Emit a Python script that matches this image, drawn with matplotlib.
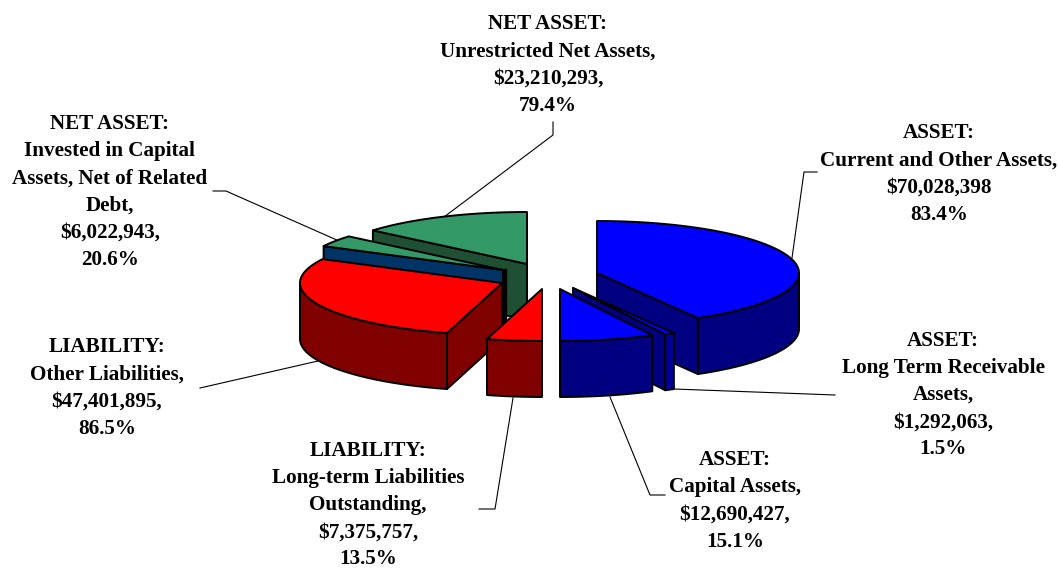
import numpy as np
import matplotlib
matplotlib.use('Agg')
import matplotlib.pyplot as plt

# Slices in clockwise order, starting at 12 o'clock
groups = ['ASSET', 'ASSET', 'ASSET', 'LIABILITY', 'LIABILITY', 'NET ASSET', 'NET ASSET']
names = ['Current and Other Assets', 'Long Term Receivable\nAssets', 'Capital Assets',
         'Long-term Liabilities\nOutstanding', 'Other Liabilities',
         'Invested in Capital\nAssets, Net of Related\nDebt', 'Unrestricted Net Assets']
values = [70028398, 1292063, 12690427, 7375757, 47401895, 6022943, 23210293]
value_ends = ['', ',', ',', ',', ',', ',', ',']
percents = [83.4, 1.5, 15.1, 13.5, 86.5, 20.6, 79.4]

# Look of each slice
apex_x = [597, 573, 560, 542, 502, 503, 527]
apex_y = [273, 288, 289, 289, 283, 270, 264]
top_colors = ['#0000FF', '#0000FF', '#0000FF', '#FF0000', '#FF0000', '#339966', '#339966']
side_colors = ['#000080', '#000099', '#000080', '#800000', '#800000', '#1F5033', '#1F5033']
cut_colors = ['#000080', '#000080', '#000080', '#800000', '#800000', '#003366', '#1F5033']
draw_order = [6, 5, 4, 0, 1, 2, 3]

# Label centres and leader lines
label_x = [939, 943, 735, 368, 107, 110, 548]
label_y = [174, 395, 501, 505, 388, 192, 65]
leaders = [[(792, 258), (804, 172), (817, 172)],
           [(674, 389), (835, 395)],
           [(610, 397), (650, 495), (665, 495)],
           [(513, 398), (495, 509), (479, 509)],
           [(318, 361), (200, 388)],
           [(339, 241), (226, 191), (213, 191)],
           [(444, 217), (553, 135), (553, 122)]]

rx, ry, depth = 202, 52, 56

plt.rcParams['font.family'] = ['Liberation Serif', 'DejaVu Serif']
fig = plt.figure(figsize=(10.58, 5.70), dpi=100)
ax = fig.add_axes([0, 0, 1, 1])
ax.set_xlim(0, 1058)
ax.set_ylim(570, 0)
ax.axis('off')

edges = np.concatenate([[0], np.cumsum(values)]) / np.sum(values) * 2 * np.pi


def rim(x0, y0, a1, a2):
    t = np.linspace(a1, a2, max(int(abs(a2 - a1) * 60), 2))
    return x0 + rx * np.sin(t), y0 - ry * np.cos(t)


def face(xs, ys, color, z):
    ax.fill(xs, ys, facecolor=color, edgecolor='black', linewidth=1.4, joinstyle='round', zorder=z)


def cut_face(x0, y0, a, color, z):
    px, py = x0 + rx * np.sin(a), y0 - ry * np.cos(a)
    face([x0, px, px, x0], [y0, py, py + depth, y0 + depth], color, z)


z = 2
for i in draw_order:
    a1, a2 = edges[i], edges[i + 1]
    x0, y0 = apex_x[i], apex_y[i]
    # only the cut face that looks toward the viewer
    if np.sin(a1) < -1e-6:
        cut_face(x0, y0, a1, cut_colors[i], z)
    if np.sin(a2) > 1e-6:
        cut_face(x0, y0, a2, cut_colors[i], z)
    # outer rim, only the part that faces the viewer
    f1, f2 = max(a1, np.pi / 2), min(a2, 3 * np.pi / 2)
    if f2 > f1:
        xs, ys = rim(x0, y0, f1, f2)
        face(np.r_[xs, xs[::-1]], np.r_[ys, ys[::-1] + depth], side_colors[i], z)
    xs, ys = rim(x0, y0, a1, a2)
    face(np.r_[x0, xs], np.r_[y0, ys], top_colors[i], z)
    z += 1

# dark sliver behind the right end of the red slice
ax.plot([505, 505], [270, 323], color='black', linewidth=2.4, zorder=3.5)

for i in range(len(values)):
    lx, ly = zip(*leaders[i])
    ax.plot(lx, ly, color='black', linewidth=0.8, zorder=1)
    label = f'{groups[i]}:\n{names[i]},\n${values[i]:,}{value_ends[i]}\n{percents[i]}%'
    ax.text(label_x[i], label_y[i], label, ha='center', va='center', fontsize=15.2,
            fontweight='bold', color='black', linespacing=1.48, zorder=20)

fig.savefig('out.png', dpi=100)
